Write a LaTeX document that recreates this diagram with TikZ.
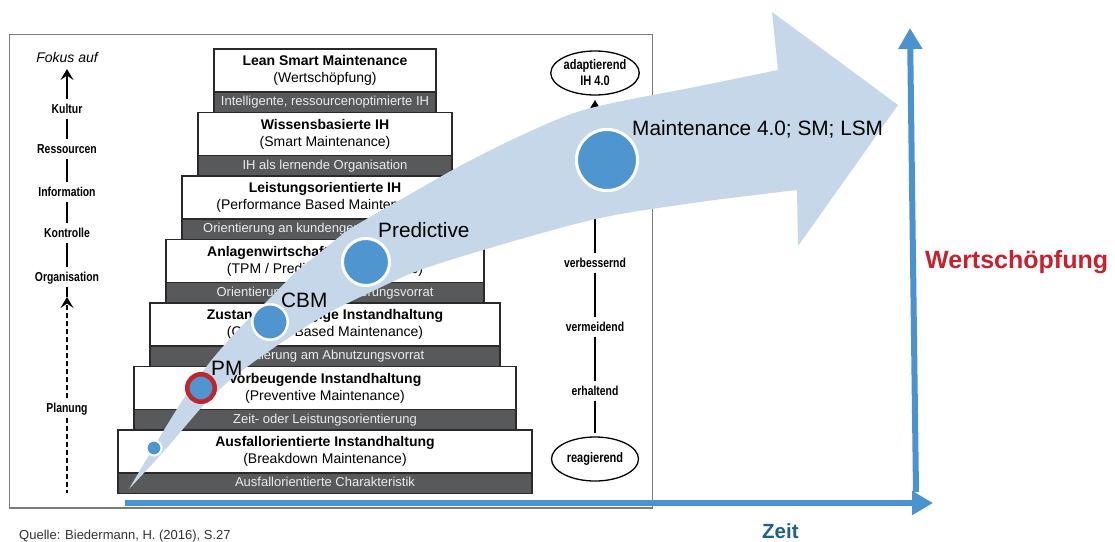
\documentclass[tikz,border=0pt]{standalone}
\usepackage{fontspec}
\setmainfont{Liberation Sans}
\newfontfamily\condfont[FakeStretch=0.8]{Liberation Sans}
\usetikzlibrary{arrows.meta,shapes.geometric}

\definecolor{framegray}{HTML}{7C7C7C}
\definecolor{boxline}{HTML}{2A2A2A}
\definecolor{bargray}{HTML}{58595B}
\definecolor{bartext}{HTML}{ECECEC}
\definecolor{arrowfill}{HTML}{C6D7E9}
\definecolor{dotblue}{HTML}{4F95D0}
\definecolor{pmred}{HTML}{C0272D}
\definecolor{axisblue}{HTML}{4A93D0}
\definecolor{wred}{HTML}{C8202E}
\definecolor{zeitblue}{HTML}{1F5F8E}
\definecolor{srcgray}{HTML}{333333}

\newcommand\pyrsize{\fontsize{14}{17}\selectfont}
\newcommand\barsize{\fontsize{13}{15}\selectfont}
\newcommand\labsize{\fontsize{13}{14.5}\selectfont}
\newcommand\ellsize{\fontsize{13.8}{16}\selectfont}
\newcommand\bigsize{\fontsize{20.8}{24}\selectfont}

\tikzset{
  pbox/.style={draw=boxline, line width=1.2pt, fill=white, align=center,
    inner sep=0pt, font=\pyrsize, text=black},
  pbar/.style={draw=boxline, line width=1.2pt, fill=bargray, inner sep=0pt,
    font=\barsize, text=bartext, text height=9.5pt, text depth=2.5pt},
  lab/.style={font=\condfont\bfseries\labsize, text height=9.3pt, text depth=0pt,
    inner sep=0pt, outer sep=5pt},
  ell/.style={ellipse, draw=black, line width=1.3pt, fill=white, align=center,
    font=\condfont\bfseries\ellsize, inner sep=0pt, outer sep=4pt,
    minimum width=87pt, minimum height=44pt},
  colline/.style={line width=2.5pt, black},
  tipup/.style={-{Stealth[length=11pt,width=13pt,inset=4.5pt]}},
  colarrow/.style={colline, tipup},
  dashline/.style={colline, dash pattern=on 5pt off 3pt},
  bigarrow/.style={fill=arrowfill},
  dot/.style={circle, draw=white, fill=dotblue, inner sep=0pt},
  biglab/.style={font=\bigsize, inner sep=0pt, text=black},
  axis/.style={line width=6pt, draw=axisblue, -{Triangle[length=21pt,width=23pt]}}
}

\begin{document}
\begin{tikzpicture}[x=1pt,y=-1pt]
\useasboundingbox (0,0) rectangle (1115,541);
\fill[white] (0,0) rectangle (1115,541);

% outer frame of the maturity model
\draw[framegray, line width=1.5pt] (9.5,34.5) rectangle (652.5,508);

% left column: focus of each stage
\node[font=\itshape\fontsize{14}{16}\selectfont, text height=10pt, text depth=0pt,
      inner sep=0pt, outer sep=7pt] (fokus) at (67,57) {Fokus auf};
\node[lab] (kultur) at (67,109) {Kultur};
\node[lab] (ress) at (67,149) {Ressourcen};
\node[lab] (info) at (67,192) {Information};
\node[lab] (kontr) at (67,233) {Kontrolle};
\node[lab] (orga) at (67,277) {Organisation};
\node[lab] (plan) at (67,408) {Planung};
\coordinate (orgtip) at (67,297);
\coordinate (planend) at (67,493);

\draw[colarrow] (kultur) -- (fokus);
\draw[colline] (kultur) -- (ress);
\draw[colline] (ress) -- (info);
\draw[colline] (info) -- (kontr);
\draw[colline] (kontr) -- (orga);
\draw[colline] (orga) -- (orgtip);
\draw[dashline, tipup] (plan) -- (orgtip);
\draw[dashline] (plan) -- (planend);

% stepped pyramid of maintenance strategies
\node[pbar, minimum width=222pt, minimum height=20.5pt] (r1) at (325,102.25) {Intelligente, ressourcenoptimierte IH};
\node[pbox, minimum width=222pt, minimum height=43pt] (s1) at (325,70.5) {\textbf{Lean Smart Maintenance}\\(Wertschöpfung)};

\node[pbar, minimum width=254pt, minimum height=20.5pt] (r2) at (325,165.75) {IH als lernende Organisation};
\node[pbox, minimum width=254pt, minimum height=43pt] (s2) at (325,134) {\textbf{Wissensbasierte IH}\\(Smart Maintenance)};

\node[pbar, minimum width=286pt, minimum height=20.5pt] (r3) at (325,229.25) {Orientierung an kundengerechter Leistung};
\node[pbox, minimum width=286pt, minimum height=43pt] (s3) at (325,197.5) {\textbf{Leistungsorientierte IH}\\(Performance Based Maintenance)};

\node[pbar, minimum width=318pt, minimum height=20.5pt] (r4) at (325,292.75) {Orientierung am Verbesserungsvorrat};
\node[pbox, minimum width=318pt, minimum height=43pt] (s4) at (325,261) {\textbf{Anlagenwirtschaftlich orientierte IH}\\(TPM / Predictive Maintenance)};

\node[pbar, minimum width=350pt, minimum height=20.5pt] (r5) at (325,356.25) {Orientierung am Abnutzungsvorrat};
\node[pbox, minimum width=350pt, minimum height=43pt] (s5) at (325,324.5) {\textbf{Zustandsabhängige Instandhaltung}\\(Condition Based Maintenance)};

\node[pbar, minimum width=382pt, minimum height=20.5pt] (r6) at (325,419.75) {Zeit- oder Leistungsorientierung};
\node[pbox, minimum width=382pt, minimum height=43pt] (s6) at (325,388) {\textbf{Vorbeugende Instandhaltung}\\(Preventive Maintenance)};

\node[pbar, minimum width=414pt, minimum height=20.5pt] (r7) at (325,483.25) {Ausfallorientierte Charakteristik};
\node[pbox, minimum width=414pt, minimum height=43pt] (s7) at (325,451.5) {\textbf{Ausfallorientierte Instandhaltung}\\(Breakdown Maintenance)};

% right column: character of each stage
\node[ell] (adapt) at (595,73) {adaptierend\\IH 4.0};
\node[lab] (verb) at (595,263) {verbessernd};
\node[lab] (verm) at (595,327) {vermeidend};
\node[lab] (erh) at (595,391) {erhaltend};
\node[ell] (reag) at (595,459) {reagierend};

\draw[colline] (reag) -- (erh);
\draw[colline] (erh) -- (verm);
\draw[colline] (verm) -- (verb);
\draw[colarrow, shorten >=1pt] (verb) -- (adapt);

% large curved development arrow
\fill[bigarrow]
  plot[smooth, tension=0.5] coordinates {(129,489) (158,440) (184,398) (210,362)
    (236,332) (256,312) (276,292) (298,270) (322,251) (350,229) (400,200)
    (460,166) (520,136) (587,109) (700,86) (778,70)}
  -- (772,12) -- (898,105) -- (798,246)
  -- plot[smooth, tension=0.5] coordinates {(797,190) (700,202) (600,218)
    (500,245) (420,270) (373,291) (330,312) (296,333) (262,356)
    (230,380) (202,407) (165,450) (129,489)}
  -- cycle;

% milestones on the arrow
\node[dot, line width=2pt, minimum size=15pt] (c0) at (154,448) {};
\node[dot, draw=pmred, line width=4.5pt, minimum size=27.5pt] (cpm) at (201,388) {};
\node[dot, line width=2.5pt, minimum size=35.5pt] (ccbm) at (270,322) {};
\node[dot, line width=3pt, minimum size=47pt] (cpred) at (366,262) {};
\node[dot, line width=3pt, minimum size=61pt] (cm40) at (607,160) {};

\node[biglab, anchor=base west] (tpm) at (211,375) {PM};
\node[biglab, anchor=base west] (tcbm) at (281,307) {CBM};
\node[biglab, anchor=base west] (tpred) at (378,237) {Predictive};
\node[biglab, anchor=base west] (tm40) at (632,135) {Maintenance 4.0; SM; LSM};

% axes
\coordinate (xo) at (125,503);
\coordinate (xe) at (933,503);
\coordinate (yo) at (916,492);
\coordinate (ye) at (910,28);
\draw[axis] (xo) -- (xe);
\draw[axis] (yo) -- (ye);

\node[anchor=base west, inner sep=0pt, text=wred,
      font=\bfseries\fontsize{25}{30}\selectfont] (wlab) at (925,268) {Wertschöpfung};
\node[anchor=base west, inner sep=0pt, text=zeitblue,
      font=\bfseries\fontsize{20.5}{24}\selectfont] (zlab) at (762,538) {Zeit};
\node[anchor=base west, inner sep=0pt, text=srcgray,
      font=\fontsize{13}{15}\selectfont] (src) at (19,539) {Quelle: Biedermann, H. (2016), S.27};
\end{tikzpicture}
\end{document}
